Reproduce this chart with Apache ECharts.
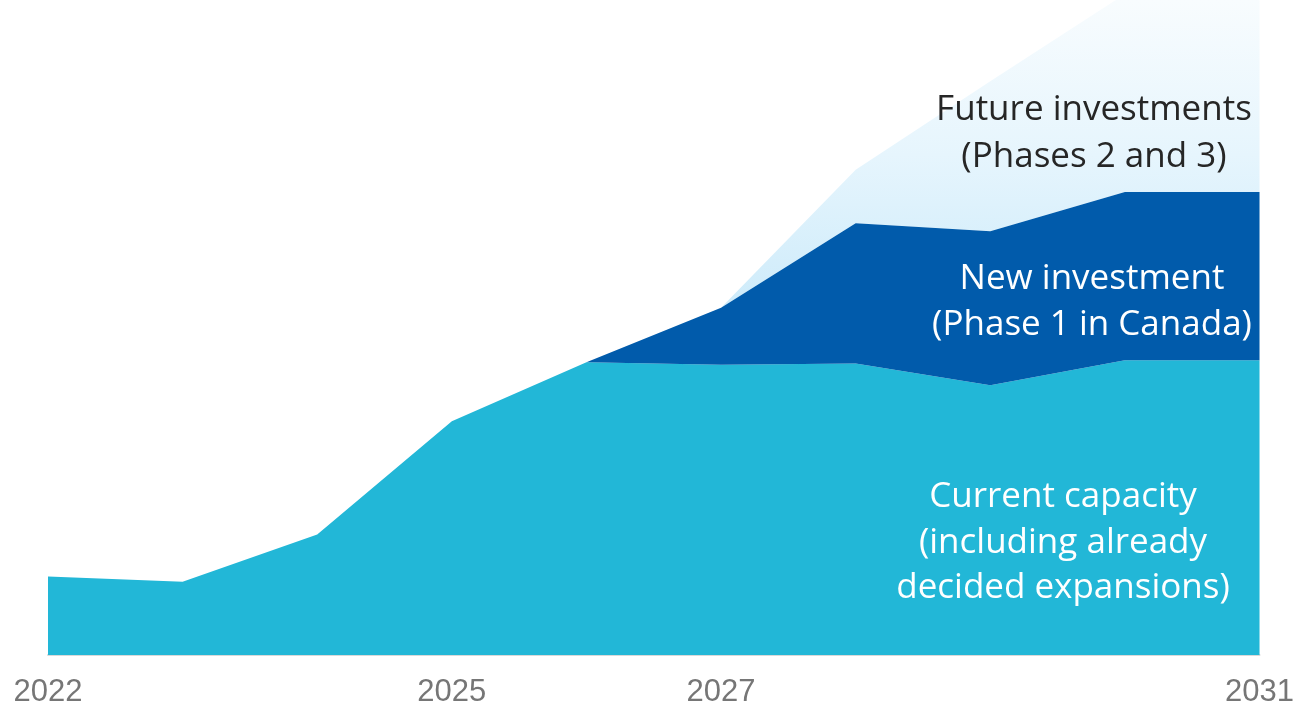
<!DOCTYPE html>
<html>
<head>
<meta charset="utf-8">
<script src="https://cdn.jsdelivr.net/npm/echarts@6/dist/echarts.min.js"></script>
<style>
html,body{margin:0;padding:0;background:#fff;overflow:hidden;}
#chart{width:100vw;height:100vh;}
</style>
</head>
<body>
<div id="chart"></div>
<script>
// Years on the x axis
const years = ['2022','2023','2024','2025','2026','2027','2028','2029','2030','2031'];
// Labels shown on the x axis
const shownYears = ['2022','2025','2027','2031'];
// Current capacity (including already decided expansions)
const currentCapacity = [12.0, 11.2, 18.4, 35.7, 44.7, 44.3, 44.5, 41.2, 45.0, 45.0];
// New investment (Phase 1 in Canada) - increment on top of current
const newInvestment = ['-', '-', '-', '-', 0, 8.7, 21.4, 23.5, 25.7, 25.7];
// Future investments (Phases 2 and 3) - increment on top of new investment
const futureInvestments = ['-', '-', '-', '-', '-', 0, 8.2, 22.9, 30.2, 41.4];

const labelFont = '"Open Sans", "Noto Sans", sans-serif';

const chart = echarts.init(document.getElementById('chart'), null, {renderer: 'canvas'});
chart.setOption({
  animation: false,
  backgroundColor: '#ffffff',
  grid: {left: 48, right: 35, top: 0, bottom: 50, containLabel: false},
  xAxis: {
    type: 'category',
    data: years,
    boundaryGap: false,
    axisLine: {show: true, lineStyle: {color: '#d9d9d9', width: 2}},
    axisTick: {show: false},
    splitLine: {show: false},
    axisLabel: {
      interval: (i, v) => shownYears.indexOf(v) >= 0,
      color: '#767676',
      fontFamily: '"Liberation Sans", Arial, sans-serif',
      fontSize: 31,
      margin: 22
    }
  },
  yAxis: {
    type: 'value', min: 0, max: 100, show: false,
    splitLine: {show: false}
  },
  series: [
    {
      name: 'Current capacity', type: 'line', stack: 'cap', data: currentCapacity,
      symbol: 'none', lineStyle: {width: 0}, smooth: false,
      areaStyle: {color: '#22b7d7', opacity: 1}, z: 3
    },
    {
      name: 'New investment', type: 'line', stack: 'cap', data: newInvestment,
      symbol: 'none', lineStyle: {width: 0},
      areaStyle: {color: '#015bab', opacity: 1}, z: 3
    },
    {
      name: 'Future investments', type: 'line', stack: 'cap', data: futureInvestments,
      symbol: 'none', lineStyle: {width: 0},
      areaStyle: {
        opacity: 1,
        color: {
          type: 'linear', x: 0, y: 0, x2: 0, y2: 310, global: true,
          colorStops: [
            {offset: 0, color: '#f8fcfe'},
            {offset: 0.5, color: '#e6f5fd'},
            {offset: 1, color: '#cdebfa'}
          ]
        }
      },
      z: 2
    }
  ],
  graphic: [
    {
      type: 'text', z: 10, x: 1094, y: 134,
      style: {
        text: 'Future investments\n(Phases 2 and 3)',
        fill: '#262626', font: '35px ' + labelFont,
        textAlign: 'center', textVerticalAlign: 'middle', lineHeight: 47
      }
    },
    {
      type: 'text', z: 10, x: 1092, y: 302,
      style: {
        text: 'New investment\n(Phase 1 in Canada)',
        fill: '#ffffff', font: '35px ' + labelFont,
        textAlign: 'center', textVerticalAlign: 'middle', lineHeight: 46
      }
    },
    {
      type: 'text', z: 10, x: 1063, y: 543,
      style: {
        text: 'Current capacity\n(including already\ndecided expansions)',
        fill: '#ffffff', font: '35px ' + labelFont,
        textAlign: 'center', textVerticalAlign: 'middle', lineHeight: 45.5
      }
    }
  ]
});
</script>
</body>
</html>
